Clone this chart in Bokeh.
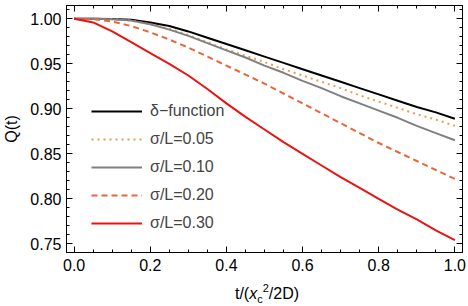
from bokeh.plotting import figure
from bokeh.models import (Range1d, LinearAxis, SingleIntervalTicker, NumeralTickFormatter,
                          CustomJSTickFormatter, Legend, LegendItem, Div)
from bokeh.layouts import column
from bokeh.embed import file_html
from bokeh.resources import INLINE

# ---- data ----
t = [0.00, 0.05, 0.10, 0.15, 0.20, 0.25, 0.30, 0.35, 0.40, 0.45, 0.50,
     0.55, 0.60, 0.65, 0.70, 0.75, 0.80, 0.85, 0.90, 0.95, 1.00]
q_delta = [1.000, 1.000, 0.9998, 0.999, 0.996, 0.992, 0.986, 0.979, 0.972, 0.965, 0.958,
           0.951, 0.944, 0.937, 0.930, 0.923, 0.916, 0.909, 0.902, 0.896, 0.889]
q_005 = [1.000, 1.000, 0.9998, 0.998, 0.994, 0.989, 0.982, 0.974, 0.966, 0.959, 0.952,
         0.944, 0.937, 0.930, 0.923, 0.915, 0.908, 0.901, 0.894, 0.888, 0.881]
q_010 = [1.000, 1.000, 0.9995, 0.998, 0.994, 0.988, 0.981, 0.973, 0.965, 0.957, 0.948,
         0.940, 0.931, 0.923, 0.914, 0.906, 0.898, 0.890, 0.881, 0.873, 0.865]
q_020 = [1.000, 0.9995, 0.997, 0.992, 0.985, 0.977, 0.968, 0.958, 0.948, 0.938, 0.928,
         0.917, 0.906, 0.895, 0.884, 0.873, 0.862, 0.852, 0.842, 0.832, 0.822]
q_030 = [1.000, 0.996, 0.986, 0.974, 0.962, 0.950, 0.937, 0.922, 0.906, 0.891, 0.877,
         0.863, 0.850, 0.837, 0.824, 0.812, 0.800, 0.788, 0.777, 0.765, 0.754]
labels = ["δ−function", "σ/L=0.05", "σ/L=0.10", "σ/L=0.20", "σ/L=0.30"]

X0, X1 = -0.02, 1.02
Y0, Y1 = 0.7403, 1.0148
FONT = "Liberation Sans"

p = figure(width=468, height=278, output_backend="svg", toolbar_location=None,
           x_range=Range1d(X0, X1), y_range=Range1d(Y0, Y1),
           min_border_left=62, min_border_right=6, min_border_top=5, min_border_bottom=26,
           background_fill_color="white", border_fill_color="white")
p.xgrid.visible = False
p.ygrid.visible = False
p.outline_line_color = "black"
p.outline_line_width = 1

def style_axis(ax, show_labels):
    ax.axis_line_color = "black"
    ax.major_tick_line_color = "black"
    ax.minor_tick_line_color = "black"
    ax.major_tick_in = 6
    ax.major_tick_out = 0
    ax.minor_tick_in = 3
    ax.minor_tick_out = 0
    if show_labels:
        ax.major_label_text_font = FONT
        ax.major_label_text_font_size = "16px"
        ax.major_label_text_color = "black"
    else:
        ax.formatter = CustomJSTickFormatter(code="return ''")
        ax.major_label_text_font_size = "1px"
        ax.major_label_standoff = 0

p.xaxis[0].ticker = SingleIntervalTicker(interval=0.2, num_minor_ticks=4)
p.xaxis[0].formatter = NumeralTickFormatter(format="0.0")
p.xaxis[0].major_label_standoff = 6
style_axis(p.xaxis[0], True)

p.yaxis[0].ticker = SingleIntervalTicker(interval=0.05, num_minor_ticks=5)
p.yaxis[0].formatter = NumeralTickFormatter(format="0.00")
p.yaxis[0].major_label_standoff = 5
style_axis(p.yaxis[0], True)
p.yaxis[0].axis_label = "Q(t)"
p.yaxis[0].axis_label_text_font = FONT
p.yaxis[0].axis_label_text_font_size = "16px"
p.yaxis[0].axis_label_text_font_style = "normal"
p.yaxis[0].axis_label_text_color = "black"
p.yaxis[0].axis_label_standoff = 7

top = LinearAxis(ticker=SingleIntervalTicker(interval=0.2, num_minor_ticks=4))
style_axis(top, False)
p.add_layout(top, "above")
right = LinearAxis(ticker=SingleIntervalTicker(interval=0.05, num_minor_ticks=5))
style_axis(right, False)
p.add_layout(right, "right")

r1 = p.line(t, q_delta, line_color="black", line_width=2)
r2 = p.line(t, q_005, line_color="#e8a050", line_width=2, line_dash="2 4")
r3 = p.line(t, q_010, line_color="#808080", line_width=2)
r4 = p.line(t, q_020, line_color="#e8663c", line_width=2, line_dash="6 4")
r5 = p.line(t, q_030, line_color="#e81414", line_width=2)

items = [LegendItem(label=lab, renderers=[r]) for lab, r in zip(labels, [r1, r2, r3, r4, r5])]
legend = Legend(items=items, location=(25, 19), padding=0, margin=0, spacing=8,
                glyph_width=51, glyph_height=20, label_height=20, label_standoff=8,
                label_text_font=FONT, label_text_font_size="16px",
                background_fill_alpha=0, border_line_color=None)
p.add_layout(legend)

# x-axis label t/(x_c^2/2D) as real HTML text below the plot frame
xlabel_html = (
    "<div style=\"width:400px;margin-left:62px;text-align:center;"
    "font-family:'Liberation Sans';font-size:16px;line-height:20px;padding-top:1px;"
    "color:black;white-space:nowrap\">"
    "t/(<i>x</i><span style=\"font-size:11px;position:relative;top:4px\">c</span>"
    "<span style=\"font-size:11px;position:relative;top:-7px\">2</span>/2D)</div>"
)
xlabel = Div(text=xlabel_html, width=468, height=28)

layout = column(p, xlabel, spacing=0)
open("out.html", "w").write(file_html(layout, INLINE))
